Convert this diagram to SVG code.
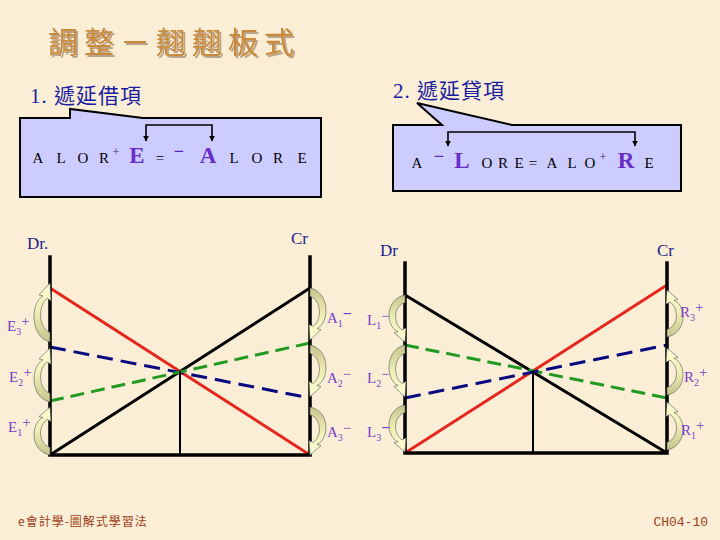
<svg xmlns="http://www.w3.org/2000/svg" width="720" height="540" viewBox="0 0 720 540">
<style>
.bg{fill:#FAEFD6}
.box{fill:#CCCCFF;stroke:#000;stroke-width:2;stroke-linejoin:miter}
.br{fill:none;stroke:#000;stroke-width:1.6}
.eq{font-family:"Liberation Serif",serif;font-size:15px;fill:#000;text-anchor:middle}
.big{font-family:"Liberation Serif",serif;font-size:23px;font-weight:bold;fill:#6A2DC8;text-anchor:middle}
.sgn{font-family:"Liberation Serif",serif;font-size:18px;font-weight:bold;fill:#5A2AB8;text-anchor:middle}
.sup{font-family:"Liberation Serif",serif;font-size:12px;fill:#3A1A88;text-anchor:middle}
.hd{font-family:"Liberation Serif","Noto Sans CJK TC",serif;font-size:21px;fill:#1C1CA0;letter-spacing:1px}
.dc{font-family:"Liberation Serif",serif;font-size:17px;fill:#1E1E8C}
.lb{font-family:"Liberation Serif",serif;font-size:15px;fill:#7A3DC8}
.ax{stroke:#000;stroke-width:3.5;fill:none;stroke-linecap:square}
.mid{stroke:#000;stroke-width:2;fill:none}
.red{stroke:#E5261C;stroke-width:3;fill:none}
.blk{stroke:#000;stroke-width:3;fill:none}
.blu{stroke:#0A0A80;stroke-width:3;fill:none;stroke-dasharray:16 8}
.grn{stroke:#229A22;stroke-width:3;fill:none;stroke-dasharray:14 7}
.ca{fill:url(#cg);stroke:#555;stroke-width:0.6}
.ft{font-family:"Noto Sans CJK TC",sans-serif;font-size:12px;fill:#A0401A;letter-spacing:1px}
</style>
<defs>
<linearGradient id="cg" x1="0" y1="0" x2="0" y2="1">
<stop offset="0" stop-color="#C4C48C"/>
<stop offset="0.5" stop-color="#EDEDB4"/>
<stop offset="1" stop-color="#FFFFD8"/>
</linearGradient>
<filter id="sh" x="-5%" y="-20%" width="115%" height="150%">
<feDropShadow dx="2" dy="2" stdDeviation="0.6" flood-color="#7A5A3A" flood-opacity="0.5"/>
</filter>
<marker id="ah" viewBox="0 0 10 10" refX="9" refY="5" markerWidth="6" markerHeight="6" orient="auto-start-reverse" markerUnits="userSpaceOnUse">
<path d="M0,0 L10,5 L0,10 Z" fill="#000"/>
</marker>
<path id="carrow" class="ca" vector-effect="non-scaling-stroke" d="M0,0 C-20,4 -20,33 -7,39 L-11,40 L0,50 L1,35 L-3,37 C-12,31 -12,12 0,8 Z"/>
</defs>
<rect class="bg" width="720" height="540"/>

<g id="title">
<text x="48" y="53" font-family="'Noto Sans CJK TC',sans-serif" font-size="30" letter-spacing="6" fill="#C98A3A" filter="url(#sh)">調整－翹翹板式</text>
</g>

<g id="callout1">
<path class="box" d="M20,118 L70,118 L70,109 L143,118 L321,118 L321,197 L20,197 Z"/>
<text class="hd" x="30" y="103">1. 遞延借項</text>
<path class="br" d="M146,141 V125 H212 V141" marker-start="url(#ah)" marker-end="url(#ah)"/>
<text class="eq" x="38" y="163">A</text>
<text class="eq" x="61" y="163">L</text>
<text class="eq" x="83" y="163">O</text>
<text class="eq" x="104" y="163">R</text>
<text class="sup" x="116" y="156">+</text>
<text class="big" x="137" y="163">E</text>
<text class="eq" x="160" y="163">=</text>
<text class="sgn" x="179" y="157">−</text>
<text class="big" x="208" y="163">A</text>
<text class="eq" x="234" y="163">L</text>
<text class="eq" x="257" y="163">O</text>
<text class="eq" x="278" y="163">R</text>
<text class="eq" x="302" y="163">E</text>
</g>

<g id="callout2">
<path class="box" d="M393,125 L442,125 L417,103 L512,125 L681,125 L681,191 L393,191 Z"/>
<text class="hd" x="393" y="98">2. 遞延貸項</text>
<path class="br" d="M448,146 V132 H635 V146" marker-start="url(#ah)" marker-end="url(#ah)"/>
<text class="eq" x="417" y="168">A</text>
<text class="sgn" x="439" y="162">−</text>
<text class="big" x="462" y="168">L</text>
<text class="eq" x="487" y="168">O</text>
<text class="eq" x="503" y="168">R</text>
<text class="eq" x="519" y="168">E</text>
<text class="eq" x="533" y="168">=</text>
<text class="eq" x="552" y="168">A</text>
<text class="eq" x="572" y="168">L</text>
<text class="eq" x="590" y="168">O</text>
<text class="sup" x="603" y="161">+</text>
<text class="big" x="626" y="168">R</text>
<text class="eq" x="649" y="168">E</text>
</g>

<g id="chart1">
<text class="dc" x="27" y="249">Dr.</text>
<text class="dc" x="291" y="244">Cr</text>
<line class="red" x1="50" y1="288" x2="310" y2="455"/>
<line class="blk" x1="50" y1="455" x2="310" y2="288"/>
<line class="blu" x1="50" y1="347" x2="310" y2="398"/>
<line class="grn" x1="50" y1="401" x2="310" y2="343"/>
<line class="mid" x1="180" y1="371" x2="180" y2="455"/>
<path class="ax" d="M50,257 V455 H310 V257"/>
</g>

<g id="chart2">
<text class="dc" x="380" y="256">Dr</text>
<text class="dc" x="657" y="256">Cr</text>
<line class="blk" x1="405" y1="295" x2="667" y2="453"/>
<line class="red" x1="405" y1="453" x2="667" y2="285"/>
<line class="grn" x1="405" y1="345" x2="667" y2="398"/>
<line class="blu" x1="405" y1="398" x2="667" y2="345"/>
<line class="mid" x1="533" y1="371" x2="533" y2="453"/>
<path class="ax" d="M405,263 V453 H667 V263"/>
</g>

<g id="connectors">
<use href="#carrow" transform="translate(50,342) scale(1,-1.18)"/>
<use href="#carrow" transform="translate(50,402) scale(1,-1.08)"/>
<use href="#carrow" transform="translate(50,455) scale(1,-0.96)"/>
<use href="#carrow" transform="translate(310,288) scale(-1,1.04)"/>
<use href="#carrow" transform="translate(310,345) scale(-1,1.04)"/>
<use href="#carrow" transform="translate(310,407) scale(-1,0.96)"/>
<use href="#carrow" transform="translate(405,295) scale(1,0.94)"/>
<use href="#carrow" transform="translate(405,345) scale(1,1.04)"/>
<use href="#carrow" transform="translate(405,405) scale(1,0.94)"/>
<use href="#carrow" transform="translate(667,337) scale(-1,-0.94)"/>
<use href="#carrow" transform="translate(667,395) scale(-1,-0.94)"/>
<use href="#carrow" transform="translate(667,450) scale(-1,-0.96)"/>
</g>

<g id="labels">
<text class="lb" x="7" y="331">E<tspan font-size="10" dy="4">3</tspan><tspan font-size="15" dy="-9">+</tspan></text>
<text class="lb" x="9" y="382">E<tspan font-size="10" dy="4">2</tspan><tspan font-size="15" dy="-9">+</tspan></text>
<text class="lb" x="8" y="432">E<tspan font-size="10" dy="4">1</tspan><tspan font-size="15" dy="-9">+</tspan></text>
<text class="lb" x="327" y="323">A<tspan font-size="10" dy="4">1</tspan><tspan font-size="16" font-weight="bold" dy="-8">−</tspan></text>
<text class="lb" x="327" y="383">A<tspan font-size="10" dy="4">2</tspan><tspan font-size="15" dy="-8">−</tspan></text>
<text class="lb" x="327" y="437">A<tspan font-size="10" dy="4">3</tspan><tspan font-size="15" dy="-8">−</tspan></text>
<text class="lb" x="367" y="325">L<tspan font-size="10" dy="4">1</tspan><tspan font-size="15" dy="-8">−</tspan></text>
<text class="lb" x="367" y="383">L<tspan font-size="10" dy="4">2</tspan><tspan font-size="15" dy="-8">−</tspan></text>
<text class="lb" x="367" y="437">L<tspan font-size="10" dy="4">3</tspan><tspan font-size="16" font-weight="bold" dy="-8">−</tspan></text>
<text class="lb" x="680" y="317">R<tspan font-size="10" dy="4">3</tspan><tspan font-size="15" dy="-9">+</tspan></text>
<text class="lb" x="684" y="382">R<tspan font-size="10" dy="4">2</tspan><tspan font-size="15" dy="-9">+</tspan></text>
<text class="lb" x="681" y="435">R<tspan font-size="10" dy="4">1</tspan><tspan font-size="15" dy="-9">+</tspan></text>
</g>

<g id="footer">
<text class="ft" x="18" y="526">e會計學-圖解式學習法</text>
<text x="708" y="526" text-anchor="end" font-family="'Liberation Mono',monospace" font-size="13" fill="#A0401A">CH04-10</text>
</g>
</svg>
